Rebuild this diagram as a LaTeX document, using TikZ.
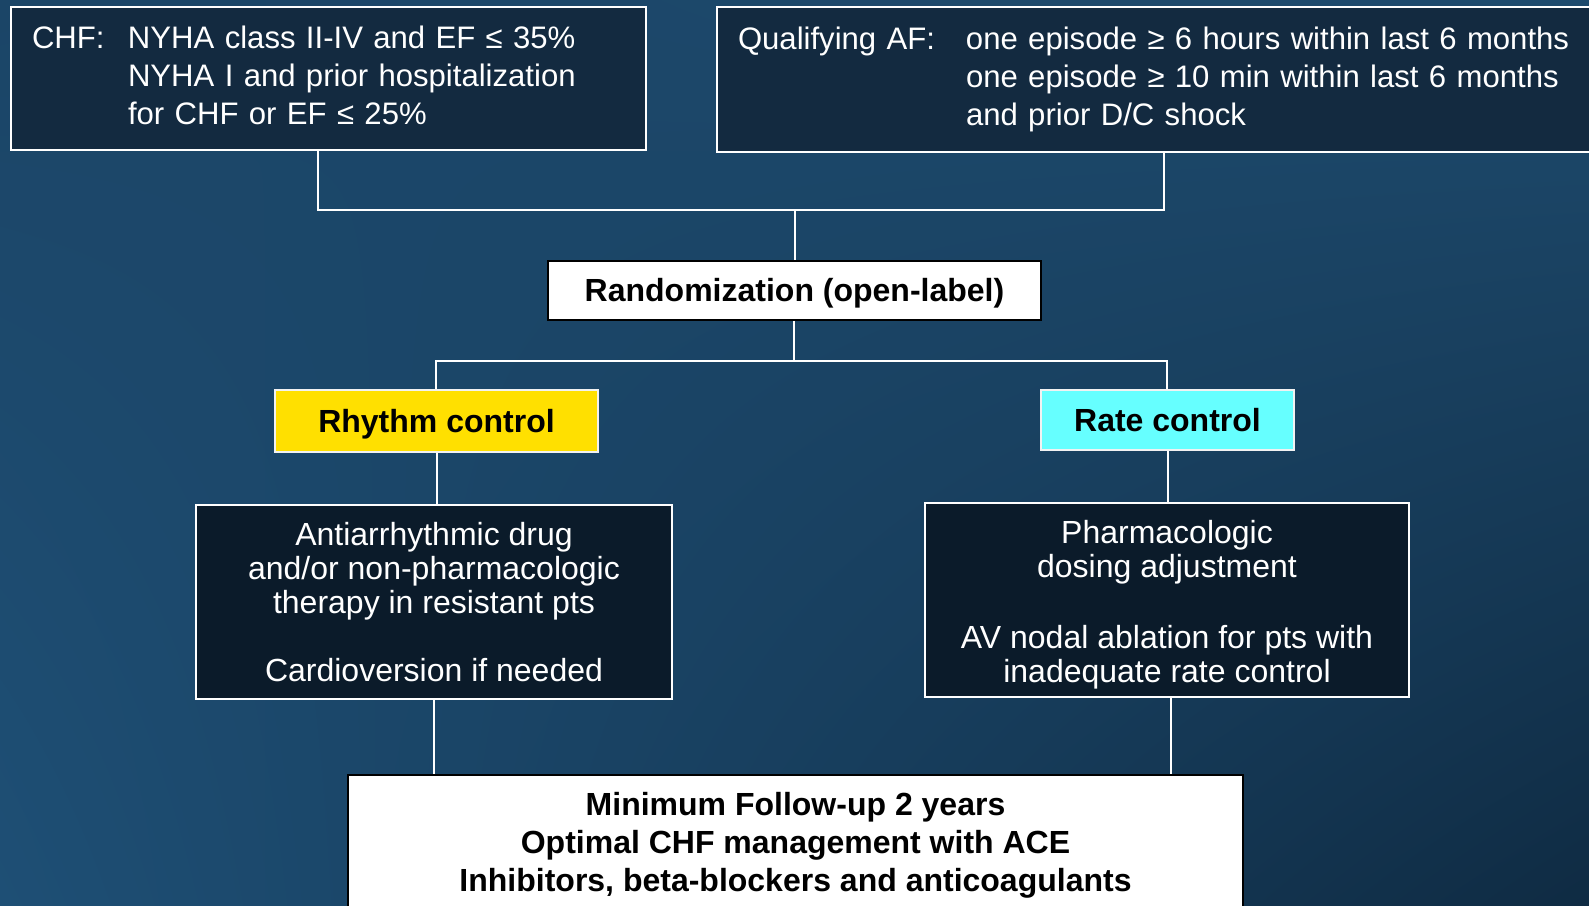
\documentclass[tikz,border=0pt]{standalone}
\usepackage{fontspec}
\setmainfont{Liberation Sans}
\usetikzlibrary{shadings}
\definecolor{bgUL}{HTML}{1B4567}
\definecolor{bgUR}{HTML}{1E4B6E}
\definecolor{bgLL}{HTML}{1E4F75}
\definecolor{bgLR}{HTML}{0F2B43}
\definecolor{darkTop}{HTML}{132A40}
\definecolor{darkMid}{HTML}{0B1B2A}
\definecolor{rhyY}{HTML}{FFE000}
\definecolor{rateC}{HTML}{66FFFF}
\tikzset{
  conn/.style={draw=white, line width=2pt},
  topbox/.style={draw=white, line width=2pt, fill=darkTop, text=white, align=left, inner xsep=21pt, inner ysep=0pt, font=\fontsize{31.1}{38}\selectfont},
  midbox/.style={draw=white, line width=2pt, fill=darkMid, text=white, align=center, inner sep=0pt, font=\fontsize{32}{34}\selectfont},
  whitebox/.style={draw=black, line width=1.5pt, fill=white, text=black, align=center, inner sep=0pt, font=\bfseries\fontsize{32}{38}\selectfont},
  armbox/.style={draw=white!90!gray, line width=1.5pt, text=black, align=center, inner sep=0pt, text height=25pt, text depth=3pt, font=\bfseries\fontsize{32}{38}\selectfont}
}
\begin{document}
\begin{tikzpicture}[x=1pt,y=-1pt]
\clip (0,0) rectangle (1589,905);
\shade[upper left=bgUL, upper right=bgUR, lower left=bgLL, lower right=bgLR] (0,0) rectangle (1589,905);

\node[topbox, anchor=north west, text width=593pt, minimum height=143pt] (chf) at (10,6)
  {\begin{tabular}{@{}p{96pt}@{}l@{}}CHF: & NYHA class II-IV and EF ≤ 35\%\\ & NYHA I and prior hospitalization\\ & for CHF or EF ≤ 25\%\end{tabular}};
\node[topbox, anchor=north west, text width=858pt, minimum height=145pt] (af) at (716,6)
  {\begin{tabular}{@{}p{228pt}@{}l@{}}Qualifying AF: & one episode ≥ 6 hours within last 6 months\\ & one episode ≥ 10 min within last 6 months\\ & and prior D/C shock\end{tabular}};

\node[whitebox, text height=25pt, text depth=3pt, minimum width=493pt, minimum height=59pt] (rand) at (794.5,290.5) {Randomization (open-label)};
\node[armbox, fill=rhyY, minimum width=323pt, minimum height=62pt] (rhy) at (436.5,421) {Rhythm control};
\node[armbox, fill=rateC, minimum width=253pt, minimum height=60pt] (rate) at (1167.5,420) {Rate control};

\node[midbox, minimum width=476pt, minimum height=194pt] (ant) at (434,602)
  {Antiarrhythmic drug\\and/or non-pharmacologic\\therapy in resistant pts\\[34pt]Cardioversion if needed};
\node[midbox, minimum width=484pt, minimum height=194pt] (pha) at (1167,600)
  {\rule{0pt}{33pt}Pharmacologic\\dosing adjustment\\[37pt]AV nodal ablation for pts with\\inadequate rate control};

\node[whitebox, anchor=north, minimum width=895pt, minimum height=142pt] (fol) at (795.5,774)
  {Minimum Follow-up 2 years\\Optimal CHF management with ACE\\Inhibitors, beta-blockers and anticoagulants};

\coordinate (t1) at (318,210);
\coordinate (t2) at (1164,210);
\coordinate (t3) at (795,210);
\draw[conn] (chf.south -| t1) -- (t1) -- (t2) -- (af.south -| t2);
\draw[conn] (t3) -- (rand.north -| t3);
\coordinate (m1) at (436,361);
\coordinate (m2) at (1167,361);
\coordinate (m3) at (794,361);
\draw[conn] (rand.south -| m3) -- (m3);
\draw[conn] (rhy.north -| m1) -- (m1) -- (m2) -- (rate.north -| m2);
\draw[conn] (rhy.south) -- (ant.north -| rhy.south);
\draw[conn] (rate.south) -- (pha.north -| rate.south);
\draw[conn] (ant.south) -- (fol.north -| ant.south);
\coordinate (b2) at (1171,0);
\draw[conn] (pha.south -| b2) -- (fol.north -| b2);
\end{tikzpicture}
\end{document}
